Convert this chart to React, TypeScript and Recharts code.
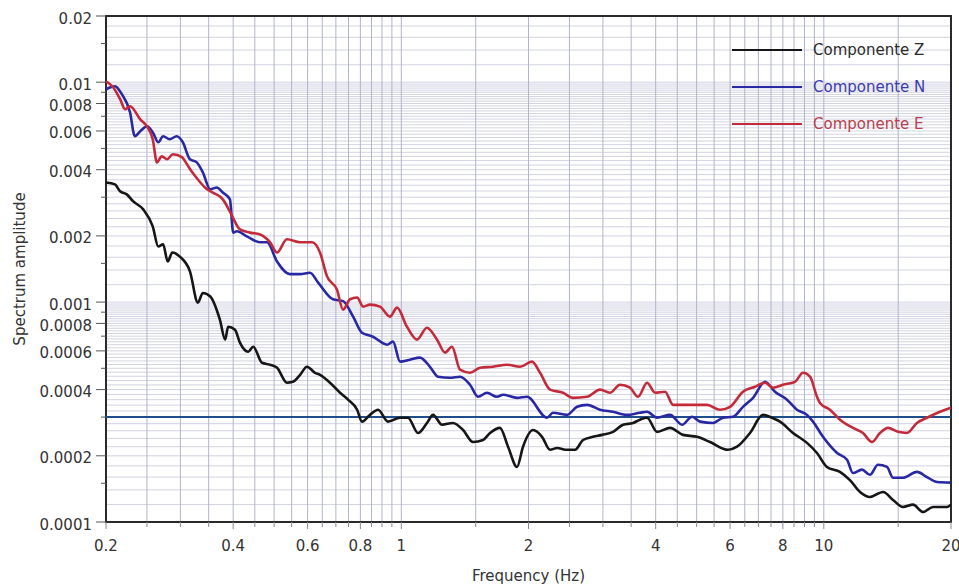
import {
  LineChart, Line, XAxis, YAxis, CartesianGrid, ReferenceLine, ReferenceArea, Legend,
} from 'recharts';

// spectra of the three components, frequency (Hz) / amplitude pairs
const freqZ = [
  0.2, 0.210, 0.216, 0.224, 0.232, 0.245, 0.258, 0.266, 0.273, 0.280, 0.287, 0.299, 0.316, 0.330, 0.339, 0.353,
  0.372, 0.383, 0.389, 0.404, 0.415, 0.434, 0.446, 0.468, 0.489, 0.508, 0.536, 0.554, 0.576, 0.598, 0.625, 0.642,
  0.678, 0.716, 0.748, 0.786, 0.807, 0.843, 0.881, 0.930, 0.993, 1.037, 1.095, 1.150, 1.189, 1.248, 1.325, 1.400,
  1.478, 1.561, 1.622, 1.712, 1.789, 1.879, 1.941, 2.050, 2.153, 2.249, 2.337, 2.467, 2.577, 2.692, 2.843, 2.986,
  3.170, 3.348, 3.535, 3.672, 3.816, 4.030, 4.326, 4.643, 5.012, 5.380, 5.934, 6.231, 6.688, 7.178, 7.540, 7.876,
  8.454, 9.124, 9.635, 10.17, 10.92, 11.53, 12.18, 12.86, 13.81, 14.58, 15.39, 16.26, 17.17, 18.13, 19.57, 20,
];
const ampZ = [
  0.00350, 0.00343, 0.00319, 0.00309, 0.00287, 0.00264, 0.00221, 0.00179, 0.00183, 0.00153, 0.00168, 0.00161,
  0.00138, 0.000995, 0.00110, 0.00106, 0.000832, 0.000675, 0.000773, 0.000749, 0.000654, 0.000595, 0.000627,
  0.000530, 0.000519, 0.000503, 0.000430, 0.000434, 0.000467, 0.000508, 0.000477, 0.000467, 0.000430, 0.000387,
  0.000360, 0.000324, 0.000286, 0.000307, 0.000324, 0.000286, 0.000298, 0.000298, 0.000254, 0.000282, 0.000307,
  0.000277, 0.000282, 0.000262, 0.000231, 0.000236, 0.000254, 0.000268, 0.000220, 0.000178, 0.000220, 0.000262,
  0.000244, 0.000213, 0.000217, 0.000213, 0.000213, 0.000236, 0.000244, 0.000249, 0.000257, 0.000277, 0.000282,
  0.000292, 0.000298, 0.000257, 0.000268, 0.000249, 0.000244, 0.000231, 0.000213, 0.000220, 0.000254, 0.000307,
  0.000298, 0.000286, 0.000254, 0.000229, 0.000206, 0.000178, 0.000169, 0.000155, 0.000137, 0.000130, 0.000137,
  0.000126, 0.000117, 0.000120, 0.000111, 0.000117, 0.000117, 0.000120,
];

const freqN = [
  0.2, 0.210, 0.218, 0.228, 0.234, 0.241, 0.250, 0.258, 0.266, 0.273, 0.283, 0.294, 0.304, 0.316, 0.328, 0.339,
  0.353, 0.366, 0.378, 0.393, 0.400, 0.408, 0.431, 0.463, 0.481, 0.508, 0.545, 0.576, 0.608, 0.635, 0.689, 0.728,
  0.769, 0.807, 0.857, 0.925, 0.956, 0.993, 1.048, 1.107, 1.169, 1.221, 1.304, 1.377, 1.454, 1.519, 1.595, 1.684,
  1.741, 1.879, 1.983, 2.212, 2.286, 2.467, 2.605, 2.752, 2.953, 3.170, 3.421, 3.672, 3.816, 4.030, 4.326, 4.618,
  4.876, 5.094, 5.469, 5.774, 6.097, 6.437, 6.800, 7.258, 7.662, 8.182, 8.640, 9.124, 9.428, 9.955, 10.75, 11.35,
  11.72, 12.31, 12.86, 13.43, 14.11, 14.58, 15.39, 16.61, 17.55, 18.53, 20,
];
const ampN = [
  0.00929, 0.00959, 0.00882, 0.00730, 0.00568, 0.00598, 0.00630, 0.00592, 0.00533, 0.00568, 0.00550, 0.00568,
  0.00533, 0.00446, 0.00432, 0.00389, 0.00326, 0.00332, 0.00315, 0.00293, 0.00207, 0.00210, 0.00199, 0.00187,
  0.00187, 0.00153, 0.00134, 0.00134, 0.00136, 0.00123, 0.00103, 0.00101, 0.000859, 0.000726, 0.000696, 0.000640,
  0.000661, 0.000536, 0.000547, 0.000559, 0.000508, 0.000458, 0.000453, 0.000458, 0.000421, 0.000371, 0.000387,
  0.000371, 0.000379, 0.000367, 0.000371, 0.000298, 0.000314, 0.000307, 0.000334, 0.000341, 0.000324, 0.000317,
  0.000307, 0.000314, 0.000317, 0.000298, 0.000307, 0.000277, 0.000301, 0.000286, 0.000282, 0.000298, 0.000301,
  0.000334, 0.000367, 0.000434, 0.000391, 0.000360, 0.000324, 0.000307, 0.000286, 0.000244, 0.000206, 0.000192,
  0.000167, 0.000173, 0.000164, 0.000182, 0.000178, 0.000159, 0.000159, 0.000169, 0.000160, 0.000152, 0.000151,
];

const freqE = [
  0.2, 0.208, 0.216, 0.222, 0.228, 0.241, 0.250, 0.258, 0.264, 0.271, 0.279, 0.288, 0.303, 0.311, 0.320, 0.330,
  0.343, 0.358, 0.372, 0.378, 0.393, 0.415, 0.438, 0.463, 0.489, 0.508, 0.536, 0.576, 0.615, 0.642, 0.667, 0.704,
  0.728, 0.756, 0.786, 0.812, 0.843, 0.890, 0.940, 0.977, 1.031, 1.089, 1.150, 1.215, 1.269, 1.318, 1.377, 1.454,
  1.536, 1.648, 1.779, 1.910, 2.038, 2.130, 2.249, 2.414, 2.549, 2.752, 2.953, 3.118, 3.293, 3.478, 3.633, 3.816,
  3.986, 4.209, 4.397, 4.822, 5.292, 5.681, 5.999, 6.437, 6.874, 7.258, 7.582, 8.006, 8.547, 8.927, 9.275, 9.635,
  9.794, 10.34, 10.92, 11.72, 12.38, 13.00, 13.58, 14.19, 14.98, 15.73, 16.61, 17.55, 18.84, 20,
];
const ampE = [
  0.0101, 0.00949, 0.00837, 0.00753, 0.00777, 0.00678, 0.00630, 0.00550, 0.00432, 0.00460, 0.00446, 0.00470,
  0.00455, 0.00423, 0.00389, 0.00361, 0.00332, 0.00315, 0.00302, 0.00293, 0.00258, 0.00214, 0.00207, 0.00203,
  0.00187, 0.00168, 0.00193, 0.00187, 0.00187, 0.00168, 0.00131, 0.00114, 0.000924, 0.00103, 0.00105, 0.000954,
  0.000974, 0.000954, 0.000859, 0.000944, 0.000773, 0.000675, 0.000765, 0.000675, 0.000589, 0.000627, 0.000493,
  0.000477, 0.000503, 0.000508, 0.000519, 0.000508, 0.000536, 0.000477, 0.000400, 0.000387, 0.000367, 0.000371,
  0.000400, 0.000387, 0.000421, 0.000408, 0.000371, 0.000430, 0.000387, 0.000391, 0.000341, 0.000341, 0.000341,
  0.000324, 0.000334, 0.000391, 0.000412, 0.000430, 0.000408, 0.000421, 0.000434, 0.000477, 0.000458, 0.000371,
  0.000348, 0.000324, 0.000292, 0.000268, 0.000254, 0.000231, 0.000254, 0.000268, 0.000257, 0.000254, 0.000282,
  0.000298, 0.000317, 0.000331,
];

const xLabels = [0.2, 0.4, 0.6, 0.8, 1, 2, 4, 6, 8, 10, 20];
const yLabels = [0.0001, 0.0002, 0.0004, 0.0006, 0.0008, 0.001, 0.002, 0.004, 0.006, 0.008, 0.01, 0.02];
const yMinor = [0.00015, 0.0003, 0.0005, 0.0007, 0.0009, 0.0015, 0.003, 0.005, 0.007, 0.009, 0.015];
const noiseLevel = 0.0003;

const FONT = '"DejaVu Sans", sans-serif';
const X_DOMAIN: [number, number] = [0.2, 20];
const Y_DOMAIN: [number, number] = [0.0001, 0.02];

const series = [
  { name: 'Componente Z', freq: freqZ, amp: ampZ, color: '#161616', text: '#2b2b2b' },
  { name: 'Componente N', freq: freqN, amp: ampN, color: '#2828a4', text: '#3c3cae' },
  { name: 'Componente E', freq: freqE, amp: ampE, color: '#c42a3a', text: '#b8404c' },
];

// grid values: every `frac` of each decade, clipped to [min, max]
function logGrid(min: number, max: number, frac: number) {
  const out: number[] = [];
  for (let exp = Math.floor(Math.log10(min) + 1e-9); 10 ** exp < max; exp++) {
    const steps = Math.round(9 / frac);
    for (let k = 0; k < steps; k++) {
      const v = Number(((1 + k * frac) * 10 ** exp).toPrecision(6));
      if (v >= min * (1 - 1e-9) && v <= max * (1 + 1e-9)) out.push(v);
    }
  }
  if (!out.some(v => Math.abs(v - max) < max * 1e-9)) out.push(max);
  return out;
}

const xGrid = logGrid(X_DOMAIN[0], X_DOMAIN[1], 0.5);
const yGrid = logGrid(Y_DOMAIN[0], Y_DOMAIN[1], 0.2);
const has = (list: number[], v: number) => list.some(l => Math.abs(l - v) < l * 1e-6);

const X_TICK_GAP = 18; // tickSize + tickMargin
const Y_TICK_GAP = 14;

function XTick(props: any) {
  const { x, y, payload } = props;
  const v = payload.value;
  const major = has(xLabels, v);
  const axisY = y - X_TICK_GAP;
  return (
    <g>
      <line x1={x} x2={x} y1={axisY} y2={axisY + (major ? 7 : 5)} stroke="#8a8a96" strokeWidth={1} />
      {major && (
        <text x={x} y={y} dy="0.71em" textAnchor="middle" fill="#333" fontSize={15} fontFamily={FONT}>
          {v}
        </text>
      )}
    </g>
  );
}

function YTick(props: any) {
  const { x, y, payload } = props;
  const v = payload.value;
  const major = has(yLabels, v);
  const axisX = x + Y_TICK_GAP;
  return (
    <g>
      <line x1={axisX - (major ? 10 : 5)} x2={axisX} y1={y} y2={y} stroke="#555" strokeWidth={1} />
      {major && (
        <text x={x} y={y} dy="0.5em" textAnchor="end" fill="#333" fontSize={15} fontFamily={FONT}>
          {v}
        </text>
      )}
    </g>
  );
}

function LegendBox() {
  return (
    <div style={{ fontFamily: FONT, fontSize: 15 }}>
      {series.map(s => (
        <div key={s.name} style={{ display: 'flex', alignItems: 'center', height: 37 }}>
          <svg width={70} height={4} style={{ display: 'block' }}>
            <line x1={0} x2={70} y1={2} y2={2} stroke={s.color} strokeWidth={2} />
          </svg>
          <span style={{ marginLeft: 11, color: s.text, whiteSpace: 'nowrap' }}>{s.name}</span>
        </div>
      ))}
    </div>
  );
}

export default function App() {
  return (
    <div style={{ position: 'absolute', left: 0, top: 0, background: '#fff' }}>
      <LineChart width={959} height={585} margin={{ top: 16, right: 8, bottom: 0, left: 0 }}>
        <CartesianGrid
          horizontalValues={yGrid}
          vertical={false}
          stroke="#d2d3e2"
          strokeWidth={1}
        />
        <CartesianGrid
          verticalValues={xGrid}
          horizontal={false}
          stroke="#b2b4c8"
          strokeWidth={1}
        />
        <XAxis
          dataKey="f"
          type="number"
          scale="log"
          domain={X_DOMAIN}
          allowDataOverflow
          ticks={xGrid}
          interval={0}
          height={63}
          tickSize={6}
          tickMargin={12}
          tickLine={false}
          axisLine={false}
          tick={<XTick />}
          label={{
            content: (p: any) => (
              <text
                x={p.viewBox.x + p.viewBox.width / 2}
                y={p.viewBox.y + p.viewBox.height - 4}
                textAnchor="middle"
                fill="#333"
                fontSize={15}
                fontFamily={FONT}
              >
                Frequency (Hz)
              </text>
            ),
          }}
        />
        <YAxis
          type="number"
          scale="log"
          domain={Y_DOMAIN}
          allowDataOverflow
          ticks={[...yLabels, ...yMinor]}
          interval={0}
          width={106}
          tickSize={10}
          tickMargin={4}
          tickLine={false}
          axisLine={false}
          tick={<YTick />}
          label={{
            content: (p: any) => {
              const cy = p.viewBox.y + p.viewBox.height / 2;
              return (
                <text
                  x={20}
                  y={cy}
                  transform={`rotate(-90 20 ${cy})`}
                  textAnchor="middle"
                  dominantBaseline="central"
                  fill="#333"
                  fontSize={15}
                  fontFamily={FONT}
                >
                  Spectrum amplitude
                </text>
              );
            },
          }}
        />
        <ReferenceLine y={noiseLevel} stroke="#1f4e8c" strokeWidth={2} />
        {series.map(s => (
          <Line
            key={s.name}
            name={s.name}
            data={s.freq.map((f, i) => ({ f, a: s.amp[i] }))}
            dataKey="a"
            type="monotoneX"
            stroke={s.color}
            strokeWidth={2.6}
            dot={false}
            activeDot={false}
            isAnimationActive={false}
          />
        ))}
        <ReferenceArea
          x1={X_DOMAIN[0]}
          x2={X_DOMAIN[1]}
          y1={Y_DOMAIN[0]}
          y2={Y_DOMAIN[1]}
          fill="none"
          fillOpacity={0}
          stroke="#2a2a2a"
          strokeWidth={2}
        />
        {/* centred + middle keeps the legend out of the plot offsets; placed by wrapperStyle */}
        <Legend
          layout="horizontal"
          verticalAlign="middle"
          align="center"
          wrapperStyle={{ left: 732, top: 31, width: 220 }}
          content={() => <LegendBox />}
        />
      </LineChart>
    </div>
  );
}
